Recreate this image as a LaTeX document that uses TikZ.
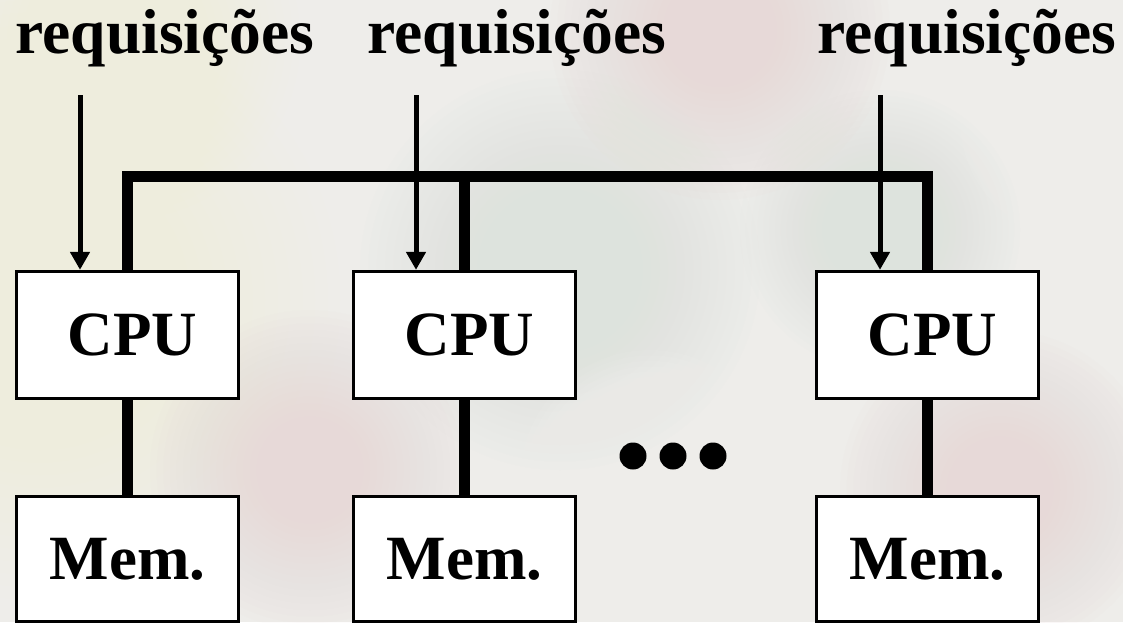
\documentclass[tikz,border=0pt]{standalone}
\usepackage{fontspec}
\setmainfont{Liberation Serif}
\usetikzlibrary{arrows.meta}

\definecolor{bgbase}{HTML}{EEEDEA}
\definecolor{peach}{HTML}{FBEDDD}
\definecolor{rose}{HTML}{E7D9D8}
\definecolor{sage}{HTML}{DDE3DD}
\definecolor{pale}{HTML}{F8F7F4}

\tikzset{
  unit/.style={draw=black, fill=white, line width=3.3pt, inner sep=0pt,
    minimum width=222pt, font=\fontsize{63}{70}\selectfont\bfseries},
  cpubox/.style={unit, minimum height=127pt},
  membox/.style={unit, minimum height=125pt},
  reqlabel/.style={anchor=base, inner sep=0pt, font=\fontsize{63.5}{70}\selectfont\bfseries},
  req/.style={line width=5pt, -{Triangle[width=19pt,length=18pt]}},
  bus/.style={line width=11pt, line join=miter},
  dot/.style={circle, fill=black, inner sep=0pt, minimum size=27pt},
  blob/.style={fill=#1, opacity=0.07, draw=none},
}

\newcommand{\softblob}[4]{% colour, x, y, radius
  \foreach \k in {1,...,24}{\fill[blob=#1] (#2,#3) circle ({#4*\k/24});}}

\begin{document}
\begin{tikzpicture}[x=1pt, y=-1pt]
  % background
  \fill[bgbase] (0,0) rectangle (1123,622);
  \begin{scope}
    \clip (0,0) rectangle (1123,622);
    \softblob{peach}{40}{300}{300}
    \softblob{peach}{120}{40}{180}
    \softblob{rose}{720}{30}{170}
    \softblob{rose}{310}{470}{160}
    \softblob{sage}{560}{270}{200}
    \softblob{sage}{880}{230}{140}
    \softblob{pale}{650}{480}{130}
    \softblob{rose}{1000}{490}{160}
    \softblob{pale}{1080}{120}{120}
  \end{scope}
  \useasboundingbox (0,0) rectangle (1123,622);

  % processing units and their memories
  \node[cpubox] (c1) at (127.5,335) {\hspace*{10pt}CPU};
  \node[cpubox] (c2) at (464.5,335) {\hspace*{10pt}CPU};
  \node[cpubox] (c3) at (927.5,335) {\hspace*{10pt}CPU};
  \node[membox] (m1) at (127.5,559) {\raisebox{-3pt}{Mem.}};
  \node[membox] (m2) at (464.5,559) {\raisebox{-3pt}{Mem.}};
  \node[membox] (m3) at (927.5,559) {\raisebox{-3pt}{Mem.}};

  % request labels
  \node[reqlabel] (l1) at (165,53) {requisições};
  \node[reqlabel] (l2) at (517,53) {requisições};
  \node[reqlabel] (l3) at (967,53) {requisições};

  % request arrows
  \coordinate (r1) at (80,95);
  \coordinate (r2) at (416,95);
  \coordinate (r3) at (880,95);
  \draw[req] (r1) -- (r1 |- c1.north);
  \draw[req] (r2) -- (r2 |- c2.north);
  \draw[req] (r3) -- (r3 |- c3.north);

  % shared bus
  \coordinate (busy) at (0,176);
  \draw[bus] (c1.north) -- (c1.north |- busy) -- (c3.north |- busy) -- (c3.north);
  \draw[bus] (c2.north |- busy) -- (c2.north);

  % local memory links
  \draw[bus] (c1.south) -- (m1.north);
  \draw[bus] (c2.south) -- (m2.north);
  \draw[bus] (c3.south) -- (m3.north);

  % ellipsis
  \node[dot] (d1) at (633,456) {};
  \node[dot] (d2) at (673,456) {};
  \node[dot] (d3) at (713,456) {};
\end{tikzpicture}
\end{document}
